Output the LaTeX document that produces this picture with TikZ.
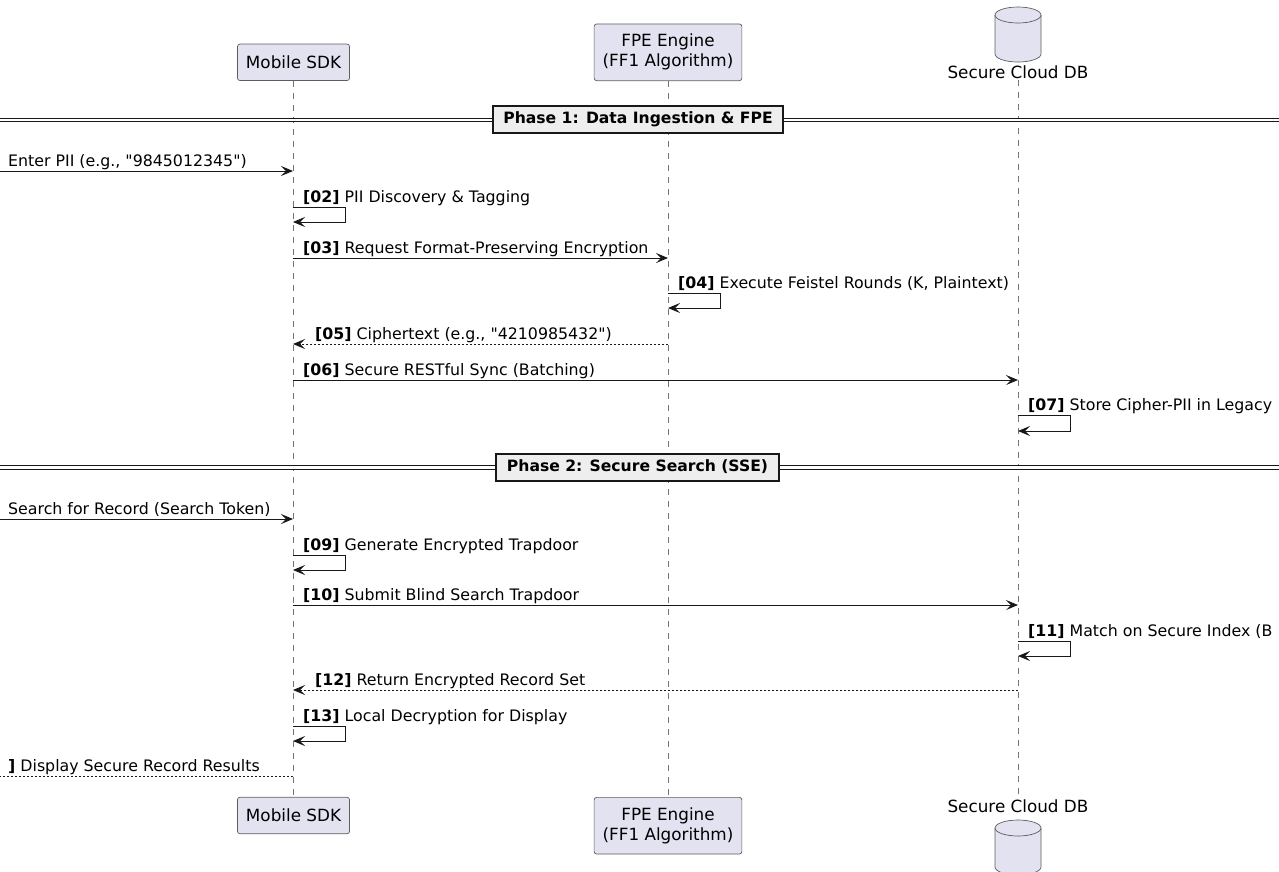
\documentclass[tikz,border=0pt]{standalone}
\usepackage{fontspec}
\setmainfont{DejaVu Sans}
\usetikzlibrary{positioning,arrows.meta}
\definecolor{partfill}{HTML}{E2E2F0}
\definecolor{partline}{HTML}{181818}
\definecolor{divfill}{HTML}{EEEEEE}

\begin{document}
\begin{tikzpicture}[x=1pt, y=-1pt,
      part/.style={draw=partline!70, fill=partfill, line width=0.7pt,
      rounded corners=2.5pt, align=center, inner xsep=8.5pt,
      minimum height=36.5pt, font=\fontsize{16.8}{20}\selectfont},
      dbname/.style={inner sep=1pt, font=\fontsize{16.8}{20}\selectfont},
      lifeline/.style={draw=partline!60, line width=0.6pt, dash pattern=on 6pt off 6pt},
      msg/.style={draw=partline, line width=1pt,
      -{Stealth[length=12pt, width=10pt, inset=5pt]}},
      reply/.style={msg, dash pattern=on 2pt off 2pt},
      lbl/.style={anchor=base west, inner sep=0pt, font=\fontsize{15.8}{18}\selectfont},
      divline/.style={draw=partline, double=white, double distance=2.6pt, line width=0.9pt},
      phase/.style={draw=partline, fill=divfill, line width=2pt, minimum height=27pt,
      inner xsep=10.5pt, font=\bfseries\fontsize{15.6}{18}\selectfont},
    ]
    \useasboundingbox (0,0) rectangle (1279,871);

    % Participants
    \node[part] (sdkTop) at (293.5,62.3) {Mobile SDK};
    \node[part, minimum height=56.7pt] (fpeTop) at (668,52.3) {FPE Engine\\(FF1 Algorithm)};
    \draw[draw=partline!70, fill=partfill, line width=0.7pt] (995,15) -- (995,54)
      arc[start angle=180, end angle=360, x radius=23pt, y radius=8pt] -- (1041,15)
      arc[start angle=0, end angle=180, x radius=23pt, y radius=8pt] -- cycle;
    \draw[draw=partline!70, line width=0.7pt] (995,15)
      arc[start angle=180, end angle=360, x radius=23pt, y radius=8pt];
    \node[dbname] (dbTop) at (1018,72.7) {Secure Cloud DB};

    \node[part] (sdkBot) at (293.5,815.5) {Mobile SDK};
    \node[part, minimum height=56.7pt] (fpeBot) at (668,825.7) {FPE Engine\\(FF1 Algorithm)};
    \node[dbname] (dbBot) at (1018,806.7) {Secure Cloud DB};
    \draw[draw=partline!70, fill=partfill, line width=0.7pt] (995,828) -- (995,867)
      arc[start angle=180, end angle=360, x radius=23pt, y radius=8pt] -- (1041,828)
      arc[start angle=0, end angle=180, x radius=23pt, y radius=8pt] -- cycle;
    \draw[draw=partline!70, line width=0.7pt] (995,828)
      arc[start angle=180, end angle=360, x radius=23pt, y radius=8pt];

    \draw[lifeline] (sdkTop) -- (sdkBot);
    \draw[lifeline] (fpeTop) -- (fpeBot);
    \draw[lifeline] (dbTop) -- (dbBot);

    % Phase 1
    \coordinate (p1w) at (0,120);
    \coordinate (p1e) at (1279,120);
    \draw[divline] (p1w) -- (p1e);
    \node[phase] (ph1) at (638,119.5) {Phase 1: Data Ingestion \& FPE};

    \coordinate (m1a) at (0,171);
    \coordinate (m1b) at (293,171);
    \draw[msg] (m1a) -- (m1b);
    \node[lbl] (t1) at (8,166) {Enter PII (e.g., \textquotedbl 9845012345\textquotedbl)};

    \coordinate (m2a) at (293,207);
    \coordinate (m2b) at (293,222);
    \draw[msg] (m2a) -- ++(52,0) |- (m2b);
    \node[lbl] (t2) at (303,202) {\textbf{[02]} PII Discovery \& Tagging};

    \coordinate (m3a) at (293,258);
    \coordinate (m3b) at (668,258);
    \draw[msg] (m3a) -- (m3b);
    \node[lbl] (t3) at (303,253) {\textbf{[03]} Request Format-Preserving Encryption};

    \coordinate (m4a) at (668,293);
    \coordinate (m4b) at (668,308);
    \draw[msg] (m4a) -- ++(52,0) |- (m4b);
    \node[lbl] (t4) at (678,288) {\textbf{[04]} Execute Feistel Rounds (K, Plaintext)};

    \coordinate (m5a) at (668,344);
    \coordinate (m5b) at (293,344);
    \draw[reply] (m5a) -- (m5b);
    \node[lbl] (t5) at (315,339) {\textbf{[05]} Ciphertext (e.g., \textquotedbl 4210985432\textquotedbl)};

    \coordinate (m6a) at (293,380);
    \coordinate (m6b) at (1018,380);
    \draw[msg] (m6a) -- (m6b);
    \node[lbl] (t6) at (303,375) {\textbf{[06]} Secure RESTful Sync (Batching)};

    \coordinate (m7a) at (1018,415);
    \coordinate (m7b) at (1018,431);
    \draw[msg] (m7a) -- ++(52,0) |- (m7b);
    \node[lbl] (t7) at (1028,410) {\textbf{[07]} Store Cipher-PII in Legacy};

    % Phase 2
    \coordinate (p2w) at (0,467.5);
    \coordinate (p2e) at (1279,467.5);
    \draw[divline] (p2w) -- (p2e);
    \node[phase] (ph2) at (637.5,467) {Phase 2: Secure Search (SSE)};

    \coordinate (m8a) at (0,519);
    \coordinate (m8b) at (293,519);
    \draw[msg] (m8a) -- (m8b);
    \node[lbl] (t8) at (8,514) {Search for Record (Search Token)};

    \coordinate (m9a) at (293,555);
    \coordinate (m9b) at (293,570);
    \draw[msg] (m9a) -- ++(52,0) |- (m9b);
    \node[lbl] (t9) at (303,550) {\textbf{[09]} Generate Encrypted Trapdoor};

    \coordinate (m10a) at (293,605);
    \coordinate (m10b) at (1018,605);
    \draw[msg] (m10a) -- (m10b);
    \node[lbl] (t10) at (303,600) {\textbf{[10]} Submit Blind Search Trapdoor};

    \coordinate (m11a) at (1018,641);
    \coordinate (m11b) at (1018,656);
    \draw[msg] (m11a) -- ++(52,0) |- (m11b);
    \node[lbl] (t11) at (1028,636) {\textbf{[11]} Match on Secure Index (B};

    \coordinate (m12a) at (1018,690);
    \coordinate (m12b) at (293,690);
    \draw[reply] (m12a) -- (m12b);
    \node[lbl] (t12) at (315,685) {\textbf{[12]} Return Encrypted Record Set};

    \coordinate (m13a) at (293,726);
    \coordinate (m13b) at (293,741);
    \draw[msg] (m13a) -- ++(52,0) |- (m13b);
    \node[lbl] (t13) at (303,721) {\textbf{[13]} Local Decryption for Display};

    \coordinate (m14a) at (293,776);
    \coordinate (m14b) at (0,776);
    \draw[reply, -] (m14a) -- (m14b);
    \node[lbl] (t14) at (8,771) {\textbf{]} Display Secure Record Results};
  \end{tikzpicture}
\end{document}
